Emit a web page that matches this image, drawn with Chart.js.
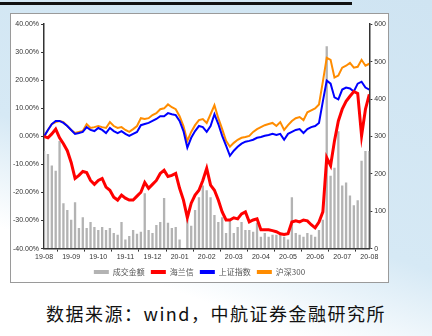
<!DOCTYPE html>
<html>
<head>
<meta charset="utf-8">
<script src="https://cdn.jsdelivr.net/npm/chart.js@4.4.0/dist/chart.umd.min.js"></script>
<style>
    html, body { margin: 0; padding: 0; }
    body {
        width: 432px; height: 336px; position: relative; overflow: hidden;
        background: linear-gradient(200deg, #cfe4f2 0%, #d6e9f5 55%, #ffffff 78%);
    }
    #topline { position: absolute; left: 0; top: 2px; width: 352px; height: 3px; background: #111; }
    #box {
        position: absolute; left: 10px; top: 13px; width: 377px; height: 268px;
        border: 1px solid #9a9a9a; background: #fff; overflow: hidden;
    }
    #chart { position: absolute; left: 0; top: 4px; }
    #source {
        position: absolute; left: 0; top: 300px; width: 432px; text-align: center;
        font-family: "Noto Sans CJK SC", "DejaVu Sans", sans-serif; font-size: 18px;
        letter-spacing: 1.5px; color: #111;
    }
</style>
</head>
<body>
<div id="topline"></div>
<div id="box"><canvas id="chart" width="377" height="268"></canvas></div>
<div id="source">数据来源：wind，中航证券金融研究所</div>
<script>
// Mois affichés sur l'axe des x
const months = ['19-08', '19-09', '19-10', '19-11', '19-12', '20-01', '20-02', '20-03', '20-04', '20-05', '20-06', '20-07', '20-08'];
const ptsPerMonth = 7;

// 成交金额 (axe de droite)
const turnover = [
    261, 253, 222, 208, 288, 121, 103,
    77, 124, 55, 84, 55, 71, 58,
    50, 58, 50, 55, 42, 37, 71,
    24, 34, 50, 40, 45, 148, 50,
    42, 63, 71, 135, 69, 55, 58,
    24, 0, 77, 61, 103, 137, 169,
    156, 137, 90, 71, 84, 42, 77,
    42, 58, 71, 50, 50, 45, 69,
    32, 42, 32, 37, 37, 42, 32,
    24, 137, 42, 37, 32, 42, 37,
    32, 50, 77, 541, 195, 216, 314,
    169, 177, 142, 116, 129, 235, 261,
    261
];

// 海兰信 (%)
const hailanxin = [
    0, -0.5, 0.9, 2.6, -0.5, -2.6, -5.1,
    -9.3, -15.0, -13.9, -12.5, -12.9, -15.7, -17.1,
    -15.7, -15.0, -18.1, -19.2, -21.7, -22.7, -20.9,
    -22.0, -22.7, -22.7, -21.3, -19.9, -16.4, -18.5,
    -17.1, -15.7, -13.2, -12.1, -14.3, -13.9, -13.2,
    -18.5, -22.7, -29.0, -23.8, -20.9, -19.2, -15.7,
    -11.4, -17.4, -19.2, -22.7, -26.9, -29.8, -29.8,
    -29.0, -29.4, -27.6, -26.9, -30.5, -29.8, -29.4,
    -33.3, -33.3, -33.3, -33.6, -34.0, -34.7, -35.0,
    -34.7, -30.5, -30.1, -30.5, -29.8, -30.1, -31.5,
    -32.6, -30.5, -26.9, -7.6, -10.4, -1.6, 5.5,
    9.7, 12.5, 14.3, 16.0, 15.3, 0.2, 9.7,
    15.0
];

// 上证指数 (%)
const sse = [
    0, 2.3, 4.4, 5.5, 5.5, 4.8, 3.7,
    2.3, 0.9, 1.2, 1.6, 3.3, 2.3, 1.9,
    3.0, 2.3, 1.2, 3.0, 1.9, 1.2, 1.9,
    0.9, 0.2, 0.9, 1.6, 4.0, 4.4, 4.8,
    5.5, 6.2, 7.2, 7.2, 8.3, 7.9, 7.6,
    5.5, 1.9, -4.0, -0.5, 1.9, 3.7, 3.3,
    1.6, 3.7, 7.9, 4.4, 0.2, -3.3, -6.9,
    -5.1, -3.7, -2.6, -1.9, -1.6, -1.2, -0.5,
    -0.2, 0.2, 0.5, 0.9, 0.5, 0.9, -1.2,
    0.9, 1.6, 2.3, 2.6, 1.2, 2.6, 3.3,
    3.7, 4.8, 12.5, 19.9, 18.8, 13.9, 13.2,
    16.7, 17.4, 17.1, 16.0, 18.8, 19.5, 17.4,
    16.7
];

// 沪深300 (%)
const hs300 = [
    0, 2.3, 4.4, 5.1, 5.5, 5.1, 3.7,
    2.3, 1.2, 1.6, 1.9, 4.4, 3.0, 3.3,
    3.7, 3.3, 3.0, 5.1, 3.7, 3.0, 3.3,
    2.3, 1.6, 2.6, 3.7, 6.5, 6.2, 6.5,
    7.6, 8.3, 9.7, 10.0, 11.4, 10.4, 9.7,
    7.2, 3.7, -1.6, 1.6, 4.0, 5.8, 6.2,
    4.8, 7.9, 11.1, 6.5, 2.6, -1.6, -3.7,
    -2.3, -1.2, -0.5, -0.2, 0.2, 1.6, 2.6,
    3.3, 4.0, 4.4, 4.8, 3.7, 5.1, 2.3,
    4.0, 5.5, 6.5, 6.9, 5.8, 8.6, 9.3,
    10.0, 11.4, 19.5, 28.0, 27.3, 21.0, 21.7,
    24.5, 25.2, 26.2, 24.5, 24.8, 27.3, 25.2,
    25.9
];

const leftTicks = [-40, -30, -20, -10, 0, 10, 20, 30, 40];
const rightTicks = [0, 100, 200, 300, 400, 500, 600];

const toXY = arr => arr.map((v, i) => ({ x: i, y: v }));
const tickFont = { family: '"Liberation Sans", Arial, sans-serif', size: 7 };

document.addEventListener('DOMContentLoaded', function() {
    const ctx = document.getElementById('chart').getContext('2d');
    new Chart(ctx, {
        type: 'line',
        data: {
            datasets: [
                {
                    type: 'bar', label: '成交金额', data: toXY(turnover), yAxisID: 'y1',
                    backgroundColor: '#b3b3b3', borderWidth: 0,
                    barPercentage: 0.6, categoryPercentage: 1, order: 4
                },
                {
                    label: '海兰信', data: toXY(hailanxin), yAxisID: 'y',
                    borderColor: '#ff0000', backgroundColor: '#ff0000',
                    borderWidth: 3, pointRadius: 0, tension: 0, order: 1
                },
                {
                    label: '上证指数', data: toXY(sse), yAxisID: 'y',
                    borderColor: '#0000ff', backgroundColor: '#0000ff',
                    borderWidth: 2, pointRadius: 0, tension: 0, order: 2
                },
                {
                    label: '沪深300', data: toXY(hs300), yAxisID: 'y',
                    borderColor: '#ff8c00', backgroundColor: '#ff8c00',
                    borderWidth: 2, pointRadius: 0, tension: 0, order: 3
                }
            ]
        },
        options: {
            responsive: false,
            animation: false,
            layout: { padding: { top: 6, right: 0, left: 0, bottom: 0 } },
            plugins: {
                tooltip: { enabled: false },
                legend: {
                    position: 'bottom',
                    labels: {
                        font: { family: '"Noto Sans CJK SC", sans-serif', size: 8 },
                        color: '#555',
                        boxWidth: 15,
                        boxHeight: 4,
                        padding: 6,
                        sort: (a, b) => a.datasetIndex - b.datasetIndex,
                        generateLabels: function(chart) {
                            const items = Chart.defaults.plugins.legend.labels.generateLabels(chart);
                            items.forEach(function(item) {
                                const ds = chart.data.datasets[item.datasetIndex];
                                item.fillStyle = ds.type === 'bar' ? ds.backgroundColor : ds.borderColor;
                                item.lineWidth = 0;
                                item.strokeStyle = 'rgba(0,0,0,0)';
                            });
                            return items;
                        }
                    }
                }
            },
            scales: {
                x: {
                    type: 'linear', min: 0, max: turnover.length - 1, offset: false,
                    grid: { drawOnChartArea: false, drawTicks: true, tickLength: 3, color: '#333' },
                    border: { color: '#333', width: 1.5 },
                    ticks: {
                        stepSize: ptsPerMonth, autoSkip: false, maxRotation: 0, padding: 1,
                        font: tickFont, color: '#333',
                        callback: v => months[v / ptsPerMonth] || ''
                    }
                },
                y: {
                    position: 'left', min: leftTicks[0], max: leftTicks[leftTicks.length - 1],
                    grid: { drawOnChartArea: false, drawTicks: true, tickLength: 3, color: '#333' },
                    border: { color: '#333', width: 1.5 },
                    afterBuildTicks: axis => { axis.ticks = leftTicks.map(v => ({ value: v })); },
                    ticks: { font: tickFont, color: '#333', padding: 2, callback: v => v.toFixed(2) + '%' }
                },
                y1: {
                    position: 'right', min: rightTicks[0], max: rightTicks[rightTicks.length - 1],
                    grid: { drawOnChartArea: false, drawTicks: true, tickLength: 3, color: '#333' },
                    border: { color: '#333', width: 1.5 },
                    afterBuildTicks: axis => { axis.ticks = rightTicks.map(v => ({ value: v })); },
                    ticks: { font: tickFont, color: '#333', padding: 2 }
                }
            }
        }
    });
});
</script>
</body>
</html>
